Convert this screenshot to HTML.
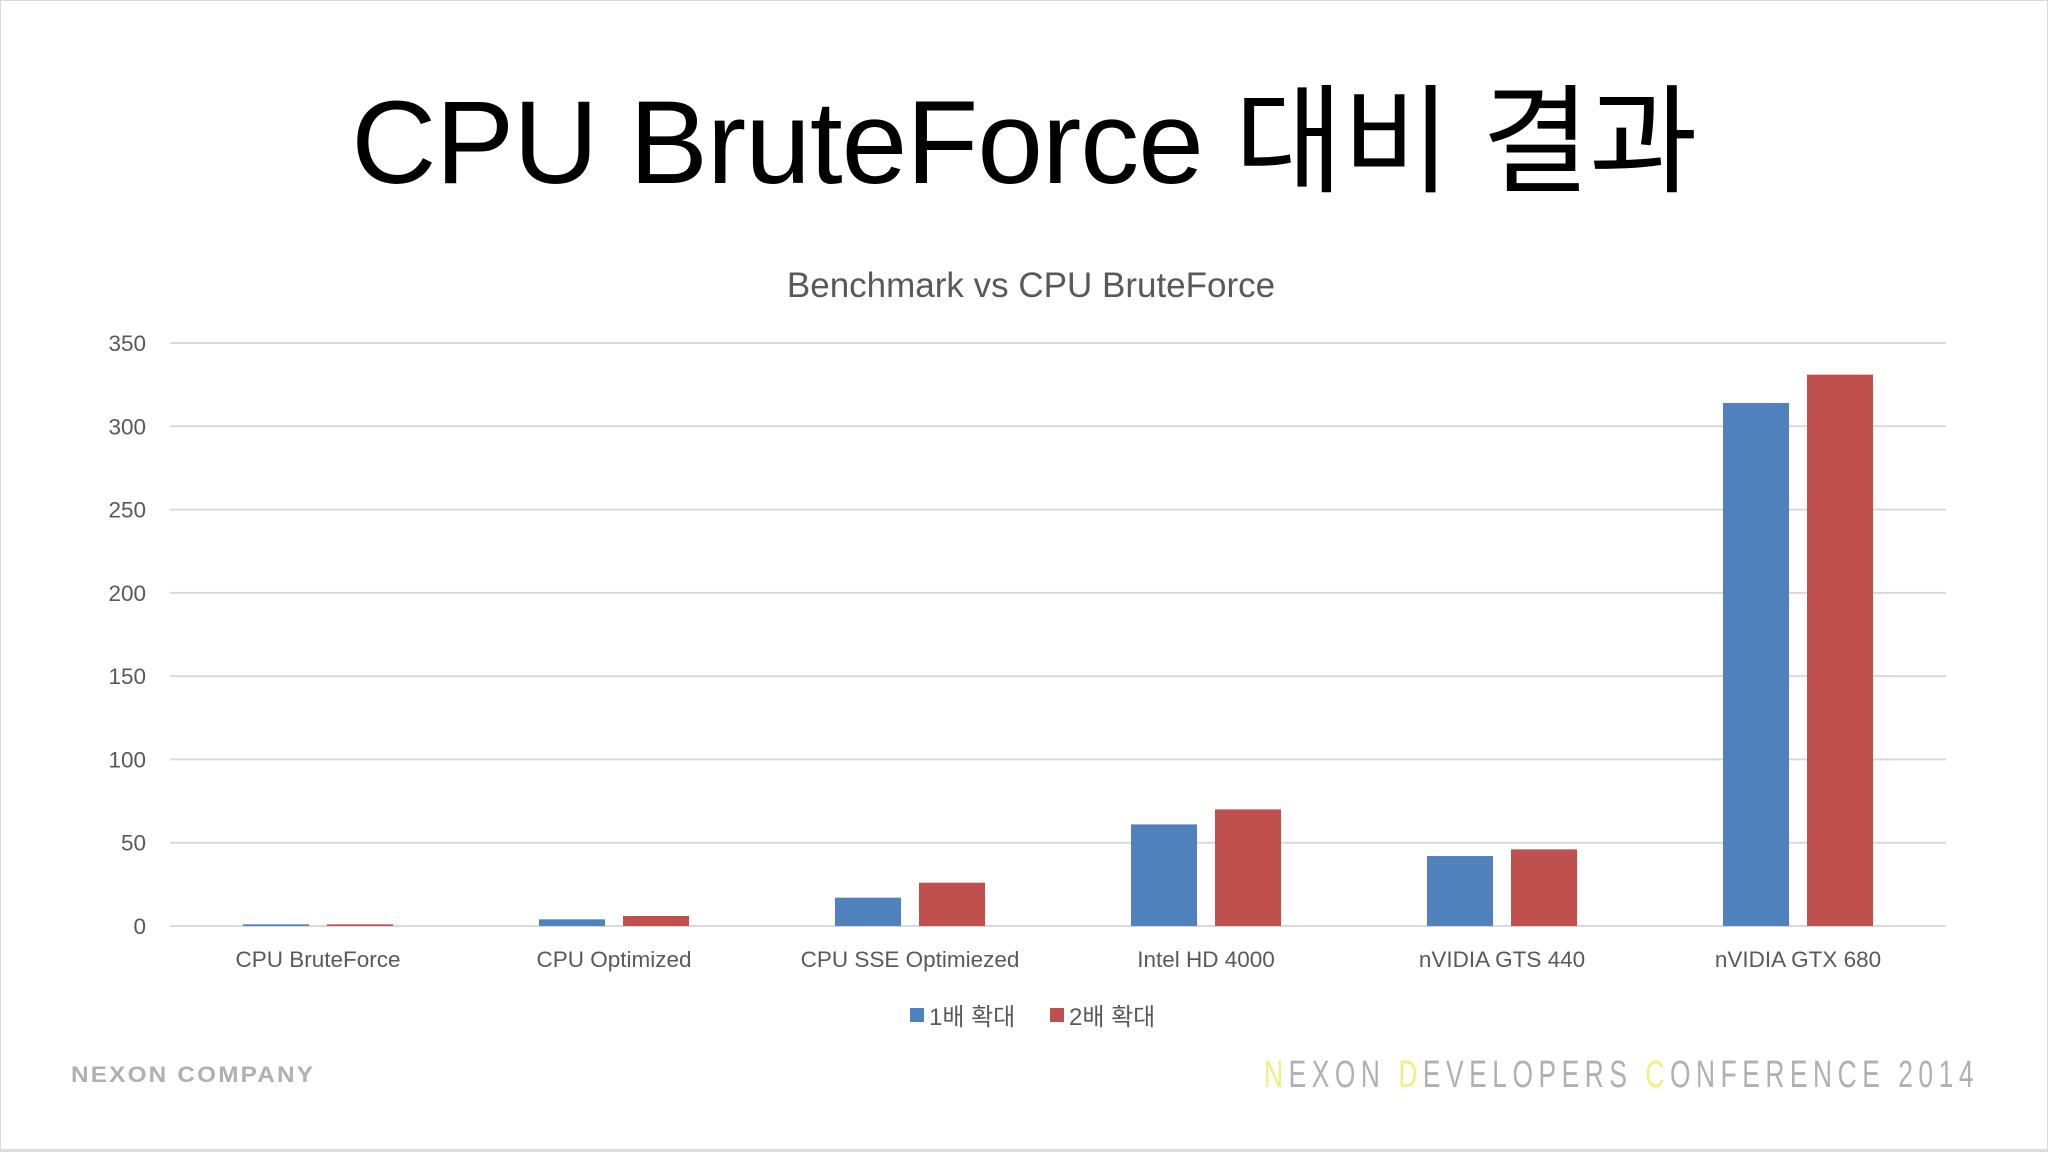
<!DOCTYPE html>
<html><head><meta charset="utf-8"><style>
html,body{margin:0;padding:0;background:#fff}
body{width:2048px;height:1152px;position:relative;overflow:hidden;font-family:"Liberation Sans","Noto Sans CJK KR",sans-serif}
.frame{position:absolute;left:0;top:0;width:2046px;height:1148px;border:1px solid #d8d8d8;border-bottom:3px solid #ddd}
.title{position:absolute;left:0;width:2048px;top:46px;text-align:center;font-size:118px;color:#000;letter-spacing:-1px}
.foot{position:absolute;white-space:nowrap;color:#b0b0b0;transform-origin:0 0}
</style></head><body>
<div class="frame"></div>
<div class="title">CPU BruteForce 대비 결과</div>
<svg id="chart" width="2048" height="1152" style="position:absolute;left:0;top:0">
<text x="1031" y="297" text-anchor="middle" font-size="35" fill="#595959" font-family="Liberation Sans, sans-serif">Benchmark vs CPU BruteForce</text>
<g id="grid"></g><g id="bars"></g><g id="labels"></g>
<g>
<rect x="910" y="1008" width="14" height="14" fill="#4f81bd"/>
<text x="929" y="1025" font-size="24" fill="#595959" font-family="Liberation Sans, Noto Sans CJK KR, sans-serif">1배 확대</text>
<rect x="1050" y="1008" width="14" height="14" fill="#c0504d"/>
<text x="1069" y="1025" font-size="24" fill="#595959" font-family="Liberation Sans, Noto Sans CJK KR, sans-serif">2배 확대</text>
</g>
</svg>
<div class="foot" id="f1" style="left:71px;top:1062px;font-size:22px;font-weight:bold;letter-spacing:2px">NEXON COMPANY</div>
<div class="foot" id="f2" style="left:1264px;top:1054px;font-size:38px;letter-spacing:8px"><span style="color:#f0f080">N</span>EXON <span style="color:#f0f080">D</span>EVELOPERS <span style="color:#f0f080">C</span>ONFERENCE 2014</div>
<script>
const categories=["CPU BruteForce","CPU Optimized","CPU SSE Optimiezed","Intel HD 4000","nVIDIA GTS 440","nVIDIA GTX 680"];
const series1=[1,4,17,61,42,314];
const series2=[1,6,26,70,46,331];
const ticks=[0,50,100,150,200,250,300,350];
const NS="http://www.w3.org/2000/svg";
const x0=170,x1=1946,y0=926,y350=343,maxV=350;
const y=v=>y0-(y0-y350)*v/maxV;
const cw=(x1-x0)/categories.length;
const cx=i=>x0+cw*(i+0.5);
function mk(t,a,p){const e=document.createElementNS(NS,t);for(const k in a)e.setAttribute(k,a[k]);p.appendChild(e);return e;}
const grid=document.getElementById('grid'),bars=document.getElementById('bars'),labels=document.getElementById('labels');
ticks.forEach(t=>{
 const l=mk('line',{x1:x0,x2:x1,y1:y(t),y2:y(t),stroke:'#d9d9d9','stroke-width':2},grid);
 
 
 const tx=mk('text',{x:146,y:y(t)+8,'text-anchor':'end','font-size':22.5,fill:'#595959','font-family':'Liberation Sans, sans-serif'},labels);
 tx.textContent=t;
 
 
});
const bw=66,gap=18;
categories.forEach((c,i)=>{
 const b1=mk('rect',{x:cx(i)-gap/2-bw,y:y(series1[i]),width:bw,height:y0-y(series1[i]),fill:'#4f81bd'},bars);
 
 
 const b2=mk('rect',{x:cx(i)+gap/2,y:y(series2[i]),width:bw,height:y0-y(series2[i]),fill:'#c0504d'},bars);
 
 
 const tx=mk('text',{x:cx(i),y:967,'text-anchor':'middle','font-size':22.5,fill:'#595959','font-family':'Liberation Sans, sans-serif'},labels);
 tx.textContent=c;
 
 
});
function fit(id,w){const e=document.getElementById(id);const r=e.scrollWidth;e.style.transform='scaleX('+(w/r)+')';}
fit('f1',244);fit('f2',715);
</script>
</body></html>
